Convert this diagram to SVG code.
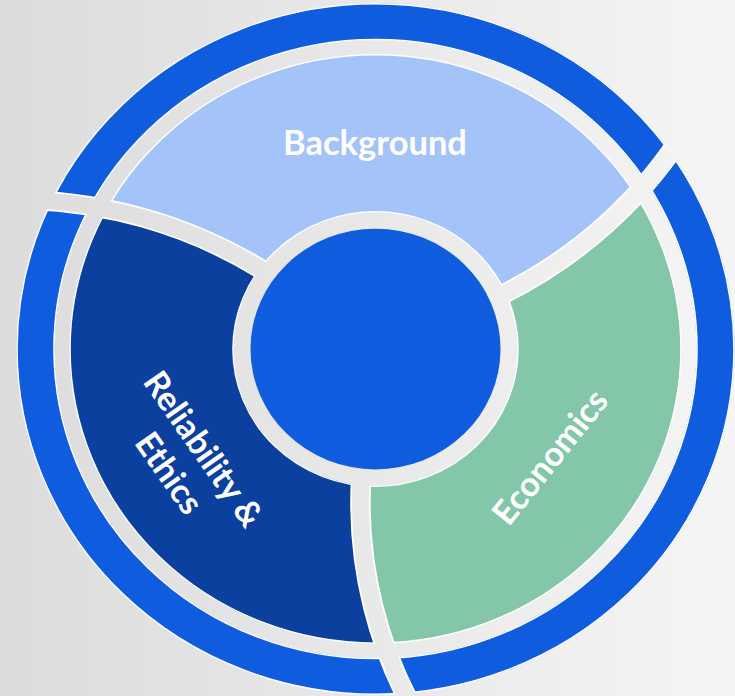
<svg xmlns="http://www.w3.org/2000/svg" width="735" height="696" viewBox="0 0 735 696">
<style>
.lbl{font-family:Lato,"Liberation Sans",sans-serif;font-weight:bold;fill:#fff;text-anchor:middle}
.edge{fill:none;stroke:#fff;stroke-width:1.6}
</style>
<defs>
<linearGradient id="bg" x1="0" y1="0" x2="1" y2="0"><stop offset="0" stop-color="#DCDCDC"/><stop offset="1" stop-color="#F5F5F5"/></linearGradient>
<path id="sep" d="M -14.4 135.8 A 462 462 0 0 0 46.9 391"/>
<mask id="cut" maskUnits="userSpaceOnUse" x="-420" y="-420" width="840" height="840">
<rect x="-420" y="-420" width="840" height="840" fill="#fff"/>
<g fill="none" stroke="#000" stroke-width="17">
<use href="#sep"/><use href="#sep" transform="rotate(120)"/><use href="#sep" transform="rotate(-120)"/>
</g>
</mask>
<clipPath id="segclip"><path clip-rule="evenodd" d="M306 0A306 306 0 1 0 -306 0A306 306 0 1 0 306 0ZM142 0A142 142 0 1 0 -142 0A142 142 0 1 0 142 0Z"/></clipPath>
<clipPath id="colclip"><path clip-rule="evenodd" d="M359 0A359 359 0 1 0 -359 0A359 359 0 1 0 359 0ZM321 0A321 321 0 1 0 -321 0A321 321 0 1 0 321 0ZM306 0A306 306 0 1 0 -306 0A306 306 0 1 0 306 0ZM142 0A142 142 0 1 0 -142 0A142 142 0 1 0 142 0Z"/></clipPath>
</defs>
<rect width="735" height="696" fill="url(#bg)"/>
<g transform="translate(375.5 349) scale(1 0.963)">
<g mask="url(#cut)">
<g id="outer-ring"><path fill="#0F5CDF" fill-rule="evenodd" d="M359 0A359 359 0 1 0 -359 0A359 359 0 1 0 359 0ZM321 0A321 321 0 1 0 -321 0A321 321 0 1 0 321 0Z"/></g>
<g clip-path="url(#segclip)">
<g id="background"><path fill="#A3C3F9" d="M0 0L-110.4 -80.4A462 462 0 0 0 -362.1 -154.9L0 -620L315.2 -236.1A462 462 0 0 1 124.8 -55.4Z"/></g>
<g id="economics"><path fill="#84C7A8" d="M0 0L124.8 -55.4A462 462 0 0 0 315.2 -236.1L540 310L46.9 391A462 462 0 0 1 -14.4 135.8Z"/></g>
<g id="reliability-ethics"><path fill="#0B409F" d="M0 0L-14.4 135.8A462 462 0 0 0 46.9 391L-540 310L-362.1 -154.9A462 462 0 0 1 -110.4 -80.4Z"/></g>
</g>
<g class="edge">
<circle r="358.5"/><circle r="321.5"/><circle r="305.5"/><circle r="142.5"/>
</g>
<g clip-path="url(#colclip)" fill="none" stroke="#fff" stroke-width="20.5">
<use href="#sep"/><use href="#sep" transform="rotate(120)"/><use href="#sep" transform="rotate(-120)"/>
</g>
</g>
<g id="center"><circle r="125" fill="#0F5CDF"/></g>
</g>
<g id="labels">
<text class="lbl" x="375" y="155" font-size="34.5">Background</text>
<text class="lbl" font-size="34" transform="translate(550 457) rotate(-51.3)" y="12">Economics</text>
<text class="lbl" font-size="34" transform="translate(186.5 461) rotate(55)"><tspan x="0" y="-9">Reliability &amp;</tspan><tspan x="0" y="33">Ethics</tspan></text>
</g>
</svg>
